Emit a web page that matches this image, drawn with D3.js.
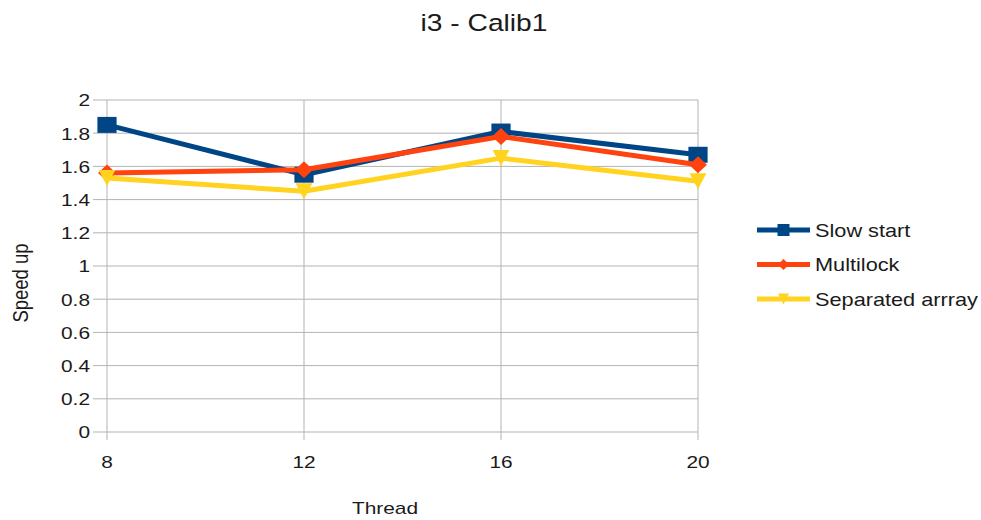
<!DOCTYPE html>
<html>
<head>
<meta charset="utf-8">
<script src="https://cdn.jsdelivr.net/npm/d3@7"></script>
<style>
  html, body { margin: 0; padding: 0; background: #fff; }
  svg { display: block; font-family: "Liberation Sans", Arial, sans-serif; }
</style>
</head>
<body>
<svg id="chart" width="981" height="520"></svg>
<script>
// Thread counts on the x axis
const threads = [8, 12, 16, 20];
// Speed-up per configuration
const slowStart = [1.85, 1.55, 1.81, 1.67];
const multilock = [1.56, 1.58, 1.78, 1.61];
const separatedArray = [1.53, 1.45, 1.65, 1.51];
const seriesNames = ["Slow start", "Multilock", "Separated arrray"];
const yTicks = [0, 0.2, 0.4, 0.6, 0.8, 1, 1.2, 1.4, 1.6, 1.8, 2];

const colors = ["#004586", "#ff420e", "#ffd320"];
const seriesValues = [slowStart, multilock, separatedArray];

// Glyphs are drawn a little wider than tall
const SX = 1.2;

const svg = d3.select("#chart");
const m = { left: 107, right: 698, top: 100, bottom: 432 };

const x = d3.scaleLinear().domain([8, 20]).range([m.left, m.right]);
const y = d3.scaleLinear().domain([0, 2]).range([m.bottom, m.top]);

function label(g, px, py, txt, size, anchor, rotate) {
  return g.append("text")
    .attr("transform", rotate
      ? `translate(${px},${py}) rotate(-90) scale(1,${SX})`
      : `translate(${px},${py}) scale(${SX},1)`)
    .attr("text-anchor", anchor)
    .attr("font-size", size).attr("fill", "#1a1a1a")
    .text(txt);
}

// Horizontal grid lines
svg.append("g").selectAll("line").data(yTicks).join("line")
  .attr("x1", m.left - 14).attr("x2", m.right)
  .attr("y1", d => y(d)).attr("y2", d => y(d))
  .attr("stroke", "#b3b3b3").attr("stroke-width", 1);

// Vertical grid lines at each thread count
svg.append("g").selectAll("line").data(threads).join("line")
  .attr("x1", d => x(d)).attr("x2", d => x(d))
  .attr("y1", m.top).attr("y2", m.bottom + 8)
  .attr("stroke", "#b3b3b3").attr("stroke-width", 1);

// Tick labels
const yl = svg.append("g");
yTicks.forEach(d => label(yl, m.left - 17, y(d) + 6.3, d3.format("~g")(d), 17.4, "end"));
const xl = svg.append("g");
threads.forEach(d => label(xl, x(d), 468, d, 17.4, "middle"));

// Title and axis titles
label(svg, 484, 31, "i3 - Calib1", 23.5, "middle");
label(svg, 385, 514, "Thread", 17.4, "middle");
label(svg, 28, 283, "Speed up", 18.5, "middle", true);

// Marker outlines
const markers = [
  r => `M${-r},${-r}H${r}V${r}H${-r}Z`,
  r => `M0,${-r}L${r},0L0,${r}L${-r},0Z`,
  r => `M${-r},${-r}H${r}L0,${r}Z`
];
const markR = [8, 8.5, 8];
const legendR = [6, 5.5, 5.5];

// Series lines and markers
const line = d3.line().x((d, i) => x(threads[i])).y(d => y(d));
seriesValues.forEach((vals, s) => {
  const g = svg.append("g");
  g.append("path").datum(vals).attr("d", line)
    .attr("fill", "none").attr("stroke", colors[s]).attr("stroke-width", 5)
    .attr("stroke-linejoin", "round");
  g.selectAll("path.m").data(vals).join("path").attr("class", "m")
    .attr("transform", (d, i) => `translate(${x(threads[i])},${y(d)}) scale(${s === 0 ? 1.2 : 1.05},1)`)
    .attr("d", markers[s](markR[s]))
    .attr("fill", colors[s]);
});

// Legend
const legend = svg.append("g");
seriesNames.forEach((name, s) => {
  const ly = 230 + s * 34.5;
  legend.append("line").attr("x1", 757).attr("x2", 810).attr("y1", ly).attr("y2", ly)
    .attr("stroke", colors[s]).attr("stroke-width", 5);
  legend.append("path")
    .attr("transform", `translate(783.5,${ly})`)
    .attr("d", markers[s](legendR[s]))
    .attr("fill", colors[s]);
  label(legend, 815, ly + 6.5, name, 18.1, "start");
});
</script>
</body>
</html>
